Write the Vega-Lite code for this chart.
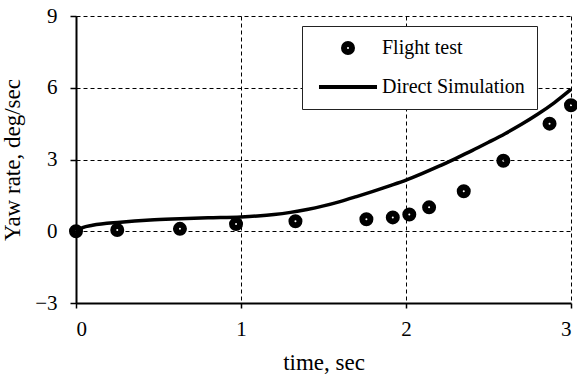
{
  "$schema": "https://vega.github.io/schema/vega-lite/v6.json",
  "width": 495,
  "height": 287,
  "autosize": {"type": "none"},
  "padding": {"left": 76, "top": 16, "right": 6, "bottom": 78},
  "background": "white",
  "data": {
    "values": [
      {"series": "Flight test", "t": 0, "y": 0},
      {"series": "Flight test", "t": 0.25, "y": 0.05},
      {"series": "Flight test", "t": 0.63, "y": 0.1},
      {"series": "Flight test", "t": 0.97, "y": 0.3},
      {"series": "Flight test", "t": 1.33, "y": 0.42},
      {"series": "Flight test", "t": 1.76, "y": 0.5},
      {"series": "Flight test", "t": 1.92, "y": 0.58},
      {"series": "Flight test", "t": 2.02, "y": 0.7},
      {"series": "Flight test", "t": 2.14, "y": 1.0},
      {"series": "Flight test", "t": 2.35, "y": 1.67},
      {"series": "Flight test", "t": 2.59, "y": 2.95},
      {"series": "Flight test", "t": 2.87, "y": 4.5},
      {"series": "Flight test", "t": 3.0, "y": 5.27},
      {"series": "Direct Simulation", "t": 0, "y": 0},
      {"series": "Direct Simulation", "t": 0.04, "y": 0.15},
      {"series": "Direct Simulation", "t": 0.1, "y": 0.25},
      {"series": "Direct Simulation", "t": 0.27, "y": 0.38},
      {"series": "Direct Simulation", "t": 0.45, "y": 0.47},
      {"series": "Direct Simulation", "t": 0.63, "y": 0.52},
      {"series": "Direct Simulation", "t": 0.8, "y": 0.56},
      {"series": "Direct Simulation", "t": 1.0, "y": 0.6},
      {"series": "Direct Simulation", "t": 1.1, "y": 0.64},
      {"series": "Direct Simulation", "t": 1.2, "y": 0.7},
      {"series": "Direct Simulation", "t": 1.3, "y": 0.79},
      {"series": "Direct Simulation", "t": 1.4, "y": 0.91},
      {"series": "Direct Simulation", "t": 1.5, "y": 1.06},
      {"series": "Direct Simulation", "t": 1.6, "y": 1.24},
      {"series": "Direct Simulation", "t": 1.7, "y": 1.45},
      {"series": "Direct Simulation", "t": 1.8, "y": 1.67},
      {"series": "Direct Simulation", "t": 1.9, "y": 1.9},
      {"series": "Direct Simulation", "t": 2.0, "y": 2.14},
      {"series": "Direct Simulation", "t": 2.1, "y": 2.42},
      {"series": "Direct Simulation", "t": 2.2, "y": 2.72},
      {"series": "Direct Simulation", "t": 2.3, "y": 3.04},
      {"series": "Direct Simulation", "t": 2.4, "y": 3.37},
      {"series": "Direct Simulation", "t": 2.5, "y": 3.72},
      {"series": "Direct Simulation", "t": 2.6, "y": 4.08},
      {"series": "Direct Simulation", "t": 2.7, "y": 4.47},
      {"series": "Direct Simulation", "t": 2.8, "y": 4.9},
      {"series": "Direct Simulation", "t": 2.9, "y": 5.38},
      {"series": "Direct Simulation", "t": 3.0, "y": 5.93}
    ]
  },
  "encoding": {
    "x": {
      "field": "t", "type": "quantitative",
      "scale": {"domain": [0, 3], "nice": false, "zero": false},
      "axis": {"values": [0, 1, 2, 3], "title": "time, sec", "titlePadding": 12, "labelPadding": 10}
    },
    "y": {
      "field": "y", "type": "quantitative",
      "scale": {"domain": [-3, 9], "nice": false, "zero": false},
      "axis": {"values": [-3, 0, 3, 6, 9], "title": "Yaw rate, deg/sec", "titlePadding": 10, "labelPadding": 13, "tickSize": 6}
    }
  },
  "layer": [
    {
      "transform": [{"filter": "datum.series === 'Direct Simulation'"}],
      "mark": {"type": "line", "color": "black", "strokeWidth": 3.5, "interpolate": "monotone"}
    },
    {
      "transform": [{"filter": "datum.series === 'Flight test'"}],
      "mark": {"type": "point", "filled": false, "color": "black", "opacity": 1, "clip": false},
      "encoding": {
        "shape": {
          "field": "series", "type": "nominal",
          "scale": {"domain": ["Flight test", "Direct Simulation"], "range": ["circle", "M-3,0H3"]},
          "legend": {
            "title": null, "orient": "none", "legendX": 226, "legendY": 10,
            "padding": 12, "rowPadding": 11, "labelOffset": 22, "symbolOffset": 22,
            "strokeColor": "#222", "fillColor": "white"
          }
        },
        "size": {
          "field": "series", "type": "nominal",
          "scale": {"type": "ordinal", "domain": ["Flight test", "Direct Simulation"], "range": [64, 374]},
          "legend": {"title": null, "orient": "none", "legendX": 226, "legendY": 10}
        },
        "strokeWidth": {
          "field": "series", "type": "nominal",
          "scale": {"type": "ordinal", "domain": ["Flight test", "Direct Simulation"], "range": [6, 4]},
          "legend": {"title": null, "orient": "none", "legendX": 226, "legendY": 10}
        }
      }
    }
  ],
  "config": {
    "view": {"stroke": null},
    "font": "Liberation Serif",
    "axis": {
      "labelFont": "Liberation Serif", "labelFontSize": 21, "labelColor": "black",
      "titleFont": "Liberation Serif", "titleFontSize": 23, "titleFontWeight": "normal", "titleColor": "black",
      "domainColor": "black", "domainWidth": 2, "tickColor": "black", "tickSize": 5, "tickWidth": 1.5,
      "grid": true, "gridColor": "black", "gridDash": [4, 3], "gridWidth": 1, "gridOpacity": 1
    },
    "legend": {
      "labelFont": "Liberation Serif", "labelFontSize": 20, "labelColor": "black"
    }
  }
}
